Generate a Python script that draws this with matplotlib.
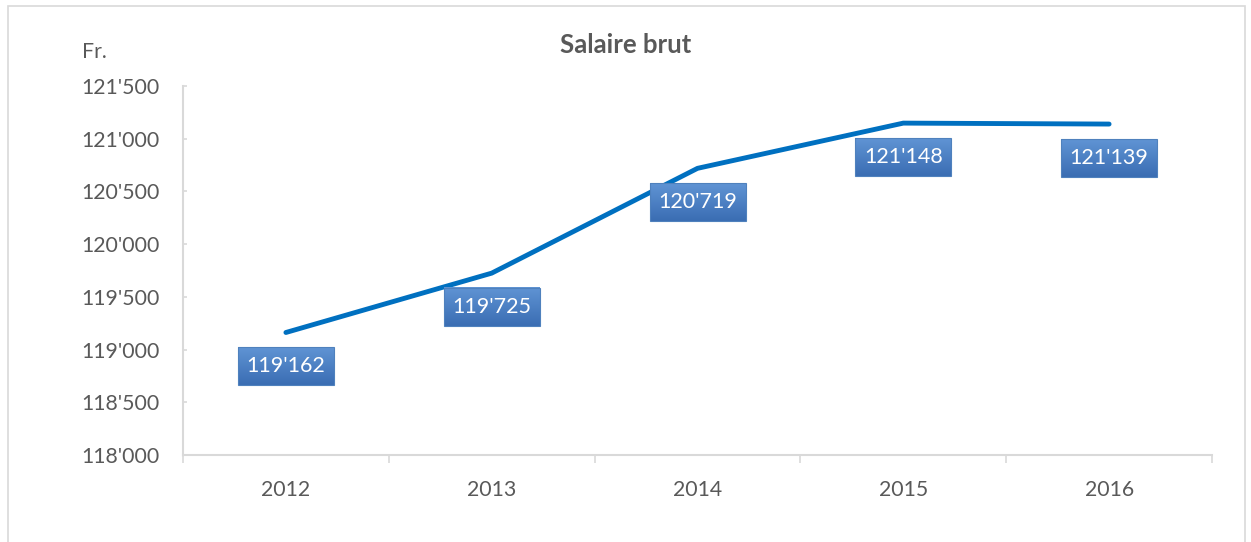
import matplotlib
matplotlib.use("Agg")
import matplotlib.pyplot as plt
import numpy as np
from matplotlib.patches import Rectangle

plt.rcParams['font.family'] = ['Lato', 'DejaVu Sans']

# données
annees = ['2012', '2013', '2014', '2015', '2016']
salaire = [119162, 119725, 120719, 121148, 121139]
y_ticks = [118000, 118500, 119000, 119500, 120000, 120500, 121000, 121500]

gris = '#595959'
axe_gris = '#d9d9d9'
bleu = '#0070C0'

def fmt(v):
    return f"{v:,}".replace(',', "'")

fig = plt.figure(figsize=(12.51, 5.42), dpi=100)
ax = fig.add_axes([183/1251, 1-455/542, (1212-183)/1251, (455-86)/542])

# cadre du graphique
fig.patches.append(Rectangle((8/1251, -0.05), (1245-8)/1251, 1.05-6/542,
                             transform=fig.transFigure, fill=False,
                             edgecolor=axe_gris, linewidth=1.2))

x = np.arange(len(annees))
ax.set_xlim(-0.5, len(annees)-0.5)
ax.set_ylim(y_ticks[0], y_ticks[-1])

ax.plot(x, salaire, color=bleu, linewidth=3.5, solid_capstyle='round',
        solid_joinstyle='round', zorder=3)

# axes
for s in ['top', 'right']:
    ax.spines[s].set_visible(False)
for s in ['left', 'bottom']:
    ax.spines[s].set_color(axe_gris)
    ax.spines[s].set_linewidth(1.5)

ax.set_yticks(y_ticks)
ax.set_yticklabels([fmt(v) for v in y_ticks])
ax.tick_params(axis='y', direction='in', length=3, width=1.2, color=axe_gris,
               labelcolor=gris, labelsize=15.3, pad=17)

ax.set_xticks(np.arange(-0.5, len(annees)))
ax.set_xticklabels([])
ax.tick_params(axis='x', which='major', direction='out', length=6, width=1.2,
               color=axe_gris)
ax.set_xticks(x, minor=True)
ax.set_xticklabels(annees, minor=True)
ax.tick_params(axis='x', which='minor', length=0, labelcolor=gris,
               labelsize=15.3, pad=18)

fig.text(626/1251, 1-45/542, 'Salaire brut', fontsize=18.5, fontweight='bold',
         color=gris, ha='center', va='center')
fig.text(82/1251, 1-52/542, 'Fr.', fontsize=15.3, color=gris, ha='left', va='center')

# étiquettes de données (boîtes dégradées)
fig.canvas.draw()
grad = np.linspace(0, 1, 50).reshape(-1, 1)
top_c = np.array([0x60, 0x94, 0xd4]) / 255
bot_c = np.array([0x3a, 0x6d, 0xb3]) / 255
img = top_c[None, None, :] * (1 - grad[:, :, None]) + bot_c[None, None, :] * grad[:, :, None]
inv = ax.transData.inverted()
for xi, v in zip(x, salaire):
    px, py = ax.transData.transform((xi, v))
    cy = py - 34
    x0, y0 = inv.transform((px - 48, cy - 19))
    x1, y1 = inv.transform((px + 48, cy + 19))
    ax.imshow(img, extent=[x0, x1, y0, y1], aspect='auto', zorder=4,
              interpolation='bilinear')
    ax.add_patch(Rectangle((x0, y0), x1 - x0, y1 - y0, fill=False,
                           edgecolor='#4f81bd', linewidth=0.8, zorder=5))
    tx, ty = inv.transform((px, cy))
    ax.text(tx, ty, fmt(v), color='white', fontsize=15.5, ha='center',
            va='center', zorder=6)

ax.set_xlim(-0.5, len(annees)-0.5)
ax.set_ylim(y_ticks[0], y_ticks[-1])

fig.savefig('out.png', dpi=100)
